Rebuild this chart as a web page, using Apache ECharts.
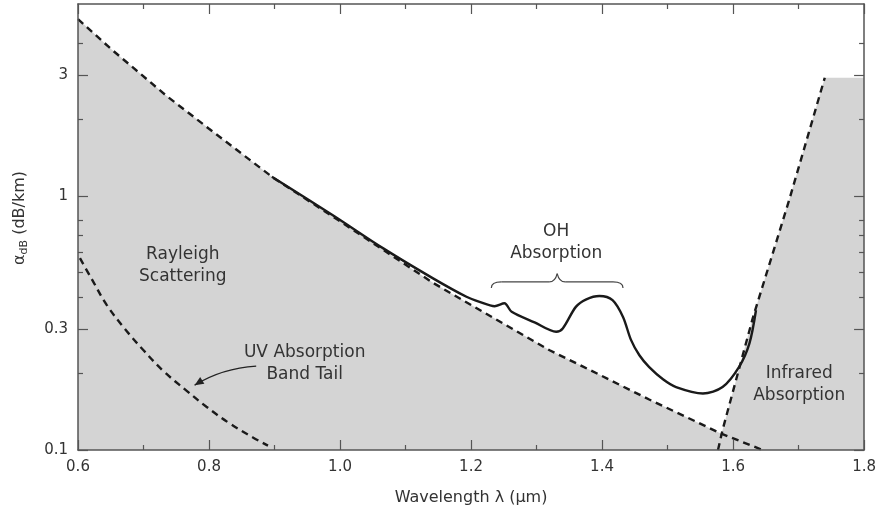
<!DOCTYPE html>
<html>
<head>
<meta charset="utf-8">
<script src="https://cdn.jsdelivr.net/npm/echarts@6/dist/echarts.min.js"></script>
<style>
  html, body { margin: 0; padding: 0; background: #fff; }
  #main { width: 879px; height: 511px; }
</style>
</head>
<body>
<div id="main"></div>
<script>
// wavelength (um) / attenuation (dB/km)
var rayleigh = [[0.600, 4.97], [0.650, 3.80], [0.735, 2.48], [0.800, 1.84], [0.898, 1.18],
  [0.989, 0.83], [1.066, 0.613], [1.142, 0.455], [1.218, 0.35], [1.320, 0.247],
  [1.371, 0.213], [1.472, 0.158], [1.582, 0.116], [1.645, 0.1]];
var uvTail = [[0.603, 0.569], [0.621, 0.471], [0.644, 0.372], [0.672, 0.299],
  [0.700, 0.247], [0.730, 0.205], [0.766, 0.171], [0.796, 0.148], [0.832, 0.127],
  [0.867, 0.112], [0.890, 0.104]];
var infrared = [[1.577, 0.1], [1.584, 0.12], [1.630, 0.33], [1.686, 0.97], [1.740, 2.92]];
var irPlateau = [[1.740, 2.92], [1.8, 2.92]];
var total = [[0.896, 1.19], [0.989, 0.84], [1.066, 0.622], [1.142, 0.474], [1.193, 0.401],
  [1.213, 0.383], [1.236, 0.368], [1.251, 0.378], [1.262, 0.350], [1.297, 0.318],
  [1.330, 0.292], [1.340, 0.301], [1.360, 0.366], [1.376, 0.392], [1.396, 0.404],
  [1.416, 0.389], [1.432, 0.334], [1.444, 0.272], [1.457, 0.236], [1.472, 0.212],
  [1.493, 0.190], [1.513, 0.177], [1.554, 0.167], [1.584, 0.177], [1.609, 0.212],
  [1.625, 0.263], [1.635, 0.355]];
var yMajor = [0.1, 0.3, 1, 3];
var yMinor = [0.2, 0.4, 0.5, 0.6, 0.7, 0.8, 2, 4];

// grey region = under rayleigh until it meets the IR edge, then under the IR edge
var shaded = rayleigh.filter(function (p) { return p[0] <= 1.582; })
  .concat(infrared.filter(function (p) { return p[0] > 1.582; }))
  .concat([irPlateau[1]]);

var FONT = '"DejaVu Sans", sans-serif';
var TXT = '#333';
var AX = '#555';

var chart = echarts.init(document.getElementById('main'));

function xAx(pos) {
  return {
    type: 'value', position: pos, min: 0.6, max: 1.8, interval: 0.2, z: 5,
    axisLine: { show: true, onZero: false, lineStyle: { color: AX, width: 1.5 } },
    axisTick: { show: true, inside: true, length: 10, lineStyle: { color: AX, width: 1.2 } },
    minorTick: { show: true, splitNumber: 2, length: 5, lineStyle: { color: AX, width: 1.2 } },
    axisLabel: {
      show: pos === 'bottom', margin: 10, color: TXT, fontFamily: FONT, fontSize: 15,
      formatter: function (v) { return v.toFixed(1); }
    },
    splitLine: { show: false },
    name: pos === 'bottom' ? 'Wavelength \u03bb (\u03bcm)' : '',
    nameLocation: 'middle', nameGap: 40,
    nameTextStyle: { color: TXT, fontFamily: FONT, fontSize: 16 }
  };
}

function yAx(pos, ticks, len, main) {
  return {
    type: 'log', logBase: 10, position: pos, min: 0.1, max: 5.7, z: 5,
    axisLine: { show: main, onZero: false, lineStyle: { color: AX, width: 1.5 } },
    axisTick: { show: true, inside: true, length: len, customValues: ticks, lineStyle: { color: AX, width: 1.2 } },
    axisLabel: {
      show: main && pos === 'left', customValues: ticks, margin: 10, color: TXT,
      fontFamily: FONT, fontSize: 15,
      formatter: function (v) { return String(+v.toPrecision(2)); }
    },
    splitLine: { show: false },
    minorTick: { show: false },
    name: main && pos === 'left' ? '{a|\u03b1}{s|dB}{a| (dB/km)}' : '',
    nameLocation: 'middle', nameGap: 48,
    nameTextStyle: {
      color: TXT, fontFamily: FONT, fontSize: 16, padding: [0, 0, 0, 18],
      rich: {
        a: { color: TXT, fontFamily: FONT, fontSize: 16, lineHeight: 20 },
        s: { color: TXT, fontFamily: FONT, fontSize: 11, lineHeight: 20, verticalAlign: 'bottom', padding: [6, 0, 0, 0] }
      }
    }
  };
}

function dashed(name, data, smooth) {
  return {
    name: name, type: 'line', data: data, symbol: 'none', smooth: smooth, z: 3,
    lineStyle: { color: '#1a1a1a', width: 2.4, type: [7, 5] }
  };
}

chart.setOption({
  animation: false,
  backgroundColor: '#fff',
  grid: { left: 78, right: 13, top: 4, bottom: 61 },
  xAxis: [xAx('bottom'), xAx('top')],
  yAxis: [
    yAx('left', yMajor, 10, true),
    yAx('right', yMajor, 10, true),
    yAx('left', yMinor, 5, false),
    yAx('right', yMinor, 5, false)
  ],
  series: [
    {
      name: 'shaded', type: 'line', data: shaded, symbol: 'none', smooth: false, z: 1,
      lineStyle: { width: 0 },
      areaStyle: { color: '#d4d4d4', opacity: 1, origin: 'start' }
    },
    dashed('rayleigh', rayleigh, false),
    dashed('uv', uvTail, 0.4),
    dashed('infrared', infrared, false),
    {
      name: 'total', type: 'line', data: total, symbol: 'none', smooth: 0.3, z: 4,
      lineStyle: { color: '#1a1a1a', width: 2.4 }
    }
  ]
});

// annotations, anchored in data coordinates
var notes = [
  { text: 'Rayleigh\nScattering', at: [0.760, 0.53] },
  { text: 'UV Absorption\nBand Tail', at: [0.946, 0.218] },
  { text: 'OH\nAbsorption', at: [1.330, 0.656] },
  { text: 'Infrared\nAbsorption', at: [1.701, 0.181] }
];
var braceSpan = [1.231, 1.432], braceY = 0.459, braceTipY = 0.495;
var arrowPts = [[0.872, 0.214], [0.82, 0.210], [0.778, 0.180]];

function px(p) { return chart.convertToPixel({ seriesIndex: 0 }, p); }

var g = [];
notes.forEach(function (n) {
  var p = px(n.at);
  g.push({
    type: 'text', x: p[0], y: p[1], z: 10,
    style: {
      text: n.text, fill: TXT, font: '17px ' + FONT, align: 'center',
      verticalAlign: 'middle', lineHeight: 22
    }
  });
});

// curly brace over the OH peaks
var bl = px([braceSpan[0], braceY]), br = px([braceSpan[1], braceY]);
var tipY = px([1.33, braceTipY])[1];
var mx = (bl[0] + br[0]) / 2, by = bl[1];
var braceStyle = { fill: null, stroke: '#444', lineWidth: 1.2 };
function quad(x1, y1, cx, cy, x2, y2) {
  g.push({ type: 'bezierCurve', z: 10, shape: { x1: x1, y1: y1, cpx1: cx, cpy1: cy, x2: x2, y2: y2 }, style: braceStyle });
}
function seg(x1, y1, x2, y2) {
  g.push({ type: 'line', z: 10, shape: { x1: x1, y1: y1, x2: x2, y2: y2 }, style: braceStyle });
}
quad(bl[0], by + 6, bl[0], by, bl[0] + 10, by);
seg(bl[0] + 10, by, mx - 8, by);
quad(mx - 8, by, mx - 2, by, mx, tipY);
quad(mx, tipY, mx + 2, by, mx + 8, by);
seg(mx + 8, by, br[0] - 10, by);
quad(br[0] - 10, by, br[0], by, br[0], by + 6);

// curved arrow to the UV tail
var a0 = px(arrowPts[0]), a1 = px(arrowPts[1]), a2 = px(arrowPts[2]);
g.push({
  type: 'bezierCurve', z: 10,
  shape: { x1: a0[0], y1: a0[1], cpx1: a1[0], cpy1: a1[1], x2: a2[0], y2: a2[1] },
  style: { fill: null, stroke: '#222', lineWidth: 1.3 }
});
var dx = a2[0] - a1[0], dy = a2[1] - a1[1], L = Math.sqrt(dx * dx + dy * dy);
dx /= L; dy /= L;
var hl = 9, hw = 4;
g.push({
  type: 'polygon', z: 11,
  shape: {
    points: [
      [a2[0], a2[1]],
      [a2[0] - dx * hl - dy * hw, a2[1] - dy * hl + dx * hw],
      [a2[0] - dx * hl + dy * hw, a2[1] - dy * hl - dx * hw]
    ]
  },
  style: { fill: '#222' }
});

chart.setOption({ graphic: g });
</script>
</body>
</html>
